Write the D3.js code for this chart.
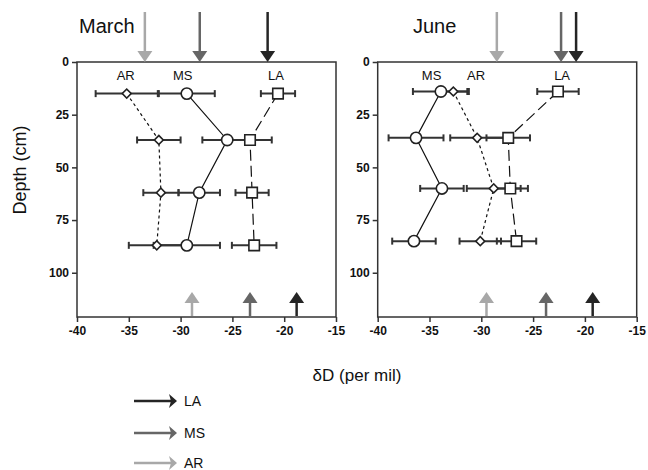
<!DOCTYPE html>
<html>
<head>
<meta charset="utf-8">
<script src="https://cdn.jsdelivr.net/npm/d3@7"></script>
<style>
  body { margin: 0; background: #fff; }
  text { font-family: "Liberation Sans", Arial, sans-serif; }
</style>
</head>
<body>
<div id="chart"></div>
<script>
const xTicks = [-40, -35, -30, -25, -20, -15];
const yTicks = [0, 25, 50, 75, 100];
const sites = ["LA", "MS", "AR"];
const siteColor = { LA: "#252525", MS: "#666666", AR: "#a8a8a8" };

// March profiles: depth, dD mean, error (+/-)
const marchDepth = [15, 37, 62, 87];
const marchAR = [-35.2, -32.1, -31.9, -32.3];
const marchARerr = [3.0, 2.1, 1.7, 2.7];
const marchMS = [-29.4, -25.5, -28.2, -29.4];
const marchMSerr = [2.7, 2.4, 2.0, 3.2];
const marchLA = [-20.6, -23.3, -23.1, -22.9];
const marchLAerr = [1.65, 2.1, 1.6, 2.15];
const marchTop = { AR: -33.45, MS: -28.15, LA: -21.6 };
const marchBottom = { AR: -28.9, MS: -23.3, LA: -18.8 };

// June profiles
const juneDepth = [14, 36, 60, 85];
const juneAR = [-32.7, -30.4, -28.8, -30.1];
const juneARerr = [1.35, 2.6, 2.6, 2.0];
const juneMS = [-33.9, -36.3, -33.8, -36.5];
const juneMSerr = [2.7, 2.65, 2.1, 2.1];
const juneLA = [-22.6, -27.4, -27.2, -26.6];
const juneLAerr = [2.0, 2.1, 1.7, 1.9];
const juneTop = { AR: -28.5, MS: -22.3, LA: -20.85 };
const juneBottom = { AR: -29.5, MS: -23.75, LA: -19.25 };

const W = 648, H = 470;
const svg = d3.select("#chart").append("svg").attr("width", W).attr("height", H);

const y = d3.scaleLinear().domain([0, 121]).range([62, 317]);

function series(depth, vals, errs) {
  return depth.map((d, i) => ({ depth: d, v: vals[i], e: errs[i] }));
}

function drawPanel(x0, title, titleX, data, top, bottom, labels) {
  const x = d3.scaleLinear().domain([-40, -15]).range([x0, x0 + 259]);
  const g = svg.append("g");

  // frame
  g.append("rect")
    .attr("x", x(-40)).attr("y", y(0))
    .attr("width", x(-15) - x(-40)).attr("height", y(121) - y(0))
    .attr("fill", "none").attr("stroke", "#333").attr("stroke-width", 1.5);

  const xAxis = g.append("g").attr("transform", `translate(0,${y(121)})`)
    .call(d3.axisBottom(x).tickValues(xTicks).tickFormat(d => String(d)).tickSize(5).tickPadding(4));
  const yAxis = g.append("g").attr("transform", `translate(${x(-40)},0)`)
    .call(d3.axisLeft(y).tickValues(yTicks).tickFormat(d => String(d)).tickSize(5).tickPadding(3));
  [xAxis, yAxis].forEach(a => {
    a.select(".domain").remove();
    a.selectAll("line").attr("stroke", "#333").attr("stroke-width", 1.5);
    a.selectAll("text").attr("font-size", 12).attr("font-weight", "bold")
      .attr("fill", "#111").attr("font-family", "Liberation Sans, Arial, sans-serif");
  });

  g.append("text").attr("x", titleX).attr("y", 33)
    .attr("font-size", 20).attr("fill", "#111").text(title);

  // top arrows (down)
  sites.forEach(s => {
    const ax = x(top[s]);
    g.append("line").attr("x1", ax).attr("x2", ax).attr("y1", 12).attr("y2", 53)
      .attr("stroke", siteColor[s]).attr("stroke-width", 2.5);
    g.append("path")
      .attr("d", `M${ax - 7.5},51 L${ax + 7.5},51 L${ax},62 Z`)
      .attr("fill", siteColor[s]);
  });
  // bottom arrows (up)
  sites.forEach(s => {
    const ax = x(bottom[s]);
    g.append("line").attr("x1", ax).attr("x2", ax).attr("y1", 316).attr("y2", 300)
      .attr("stroke", siteColor[s]).attr("stroke-width", 2.5);
    g.append("path")
      .attr("d", `M${ax - 7.5},303 L${ax + 7.5},303 L${ax},292 Z`)
      .attr("fill", siteColor[s]);
  });

  const line = d3.line().x(d => x(d.v)).y(d => y(d.depth));
  const dash = { AR: "3,3", MS: null, LA: "11,5" };

  ["AR", "MS", "LA"].forEach(s => {
    g.append("path").datum(data[s]).attr("d", line)
      .attr("fill", "none").attr("stroke", "#111").attr("stroke-width", 1.2)
      .attr("stroke-dasharray", dash[s]);
  });

  // error bars
  ["AR", "MS", "LA"].forEach(s => {
    const eb = g.append("g").selectAll("g").data(data[s]).join("g");
    eb.append("line")
      .attr("x1", d => x(d.v - d.e)).attr("x2", d => x(d.v + d.e))
      .attr("y1", d => y(d.depth)).attr("y2", d => y(d.depth))
      .attr("stroke", "#333").attr("stroke-width", 2);
    [-1, 1].forEach(k => {
      eb.append("line")
        .attr("x1", d => x(d.v + k * d.e)).attr("x2", d => x(d.v + k * d.e))
        .attr("y1", d => y(d.depth) - 3.5).attr("y2", d => y(d.depth) + 3.5)
        .attr("stroke", "#333").attr("stroke-width", 2);
    });
  });

  // markers (AR diamond = square turned 45 degrees)
  const sym = { AR: d3.symbolSquare, MS: d3.symbolCircle, LA: d3.symbolSquare };
  const size = { AR: 40, MS: 100, LA: 110 };
  ["AR", "MS", "LA"].forEach(s => {
    g.append("g").selectAll("path").data(data[s]).join("path")
      .attr("transform", d => `translate(${x(d.v)},${y(d.depth)})${s === "AR" ? " rotate(45)" : ""}`)
      .attr("d", d3.symbol().type(sym[s]).size(size[s]))
      .attr("fill", "#fff").attr("stroke", "#222").attr("stroke-width", 1.6);
  });

  labels.forEach(l => {
    g.append("text").attr("x", x(l.v)).attr("y", 80)
      .attr("text-anchor", "middle").attr("font-size", 13).attr("fill", "#111")
      .text(l.name);
  });
  return x;
}

drawPanel(77, "March", 79, {
  AR: series(marchDepth, marchAR, marchARerr),
  MS: series(marchDepth, marchMS, marchMSerr),
  LA: series(marchDepth, marchLA, marchLAerr)
}, marchTop, marchBottom, [
  { name: "AR", v: -35.3 }, { name: "MS", v: -29.8 }, { name: "LA", v: -20.8 }
]);

drawPanel(377.7, "June", 413, {
  AR: series(juneDepth, juneAR, juneARerr),
  MS: series(juneDepth, juneMS, juneMSerr),
  LA: series(juneDepth, juneLA, juneLAerr)
}, juneTop, juneBottom, [
  { name: "MS", v: -34.8 }, { name: "AR", v: -30.5 }, { name: "LA", v: -22.2 }
]);

// axis titles
svg.append("text")
  .attr("transform", "translate(26,170) rotate(-90)")
  .attr("text-anchor", "middle").attr("font-size", 18).attr("fill", "#111")
  .text("Depth (cm)");
svg.append("text").attr("x", 357).attr("y", 381)
  .attr("text-anchor", "middle").attr("font-size", 17).attr("fill", "#111")
  .text("δD (per mil)");

// legend
const legendY = [401, 433, 463];
sites.forEach((s, i) => {
  const ly = legendY[i];
  svg.append("line").attr("x1", 134).attr("x2", 172).attr("y1", ly).attr("y2", ly)
    .attr("stroke", siteColor[s]).attr("stroke-width", 2.5);
  svg.append("path")
    .attr("d", `M169,${ly - 7} L177,${ly} L169,${ly + 7} L171,${ly} Z`)
    .attr("fill", siteColor[s]);
  svg.append("text").attr("x", 184).attr("y", ly + 5)
    .attr("font-size", 14).attr("fill", "#111").text(s);
});
</script>
</body>
</html>
